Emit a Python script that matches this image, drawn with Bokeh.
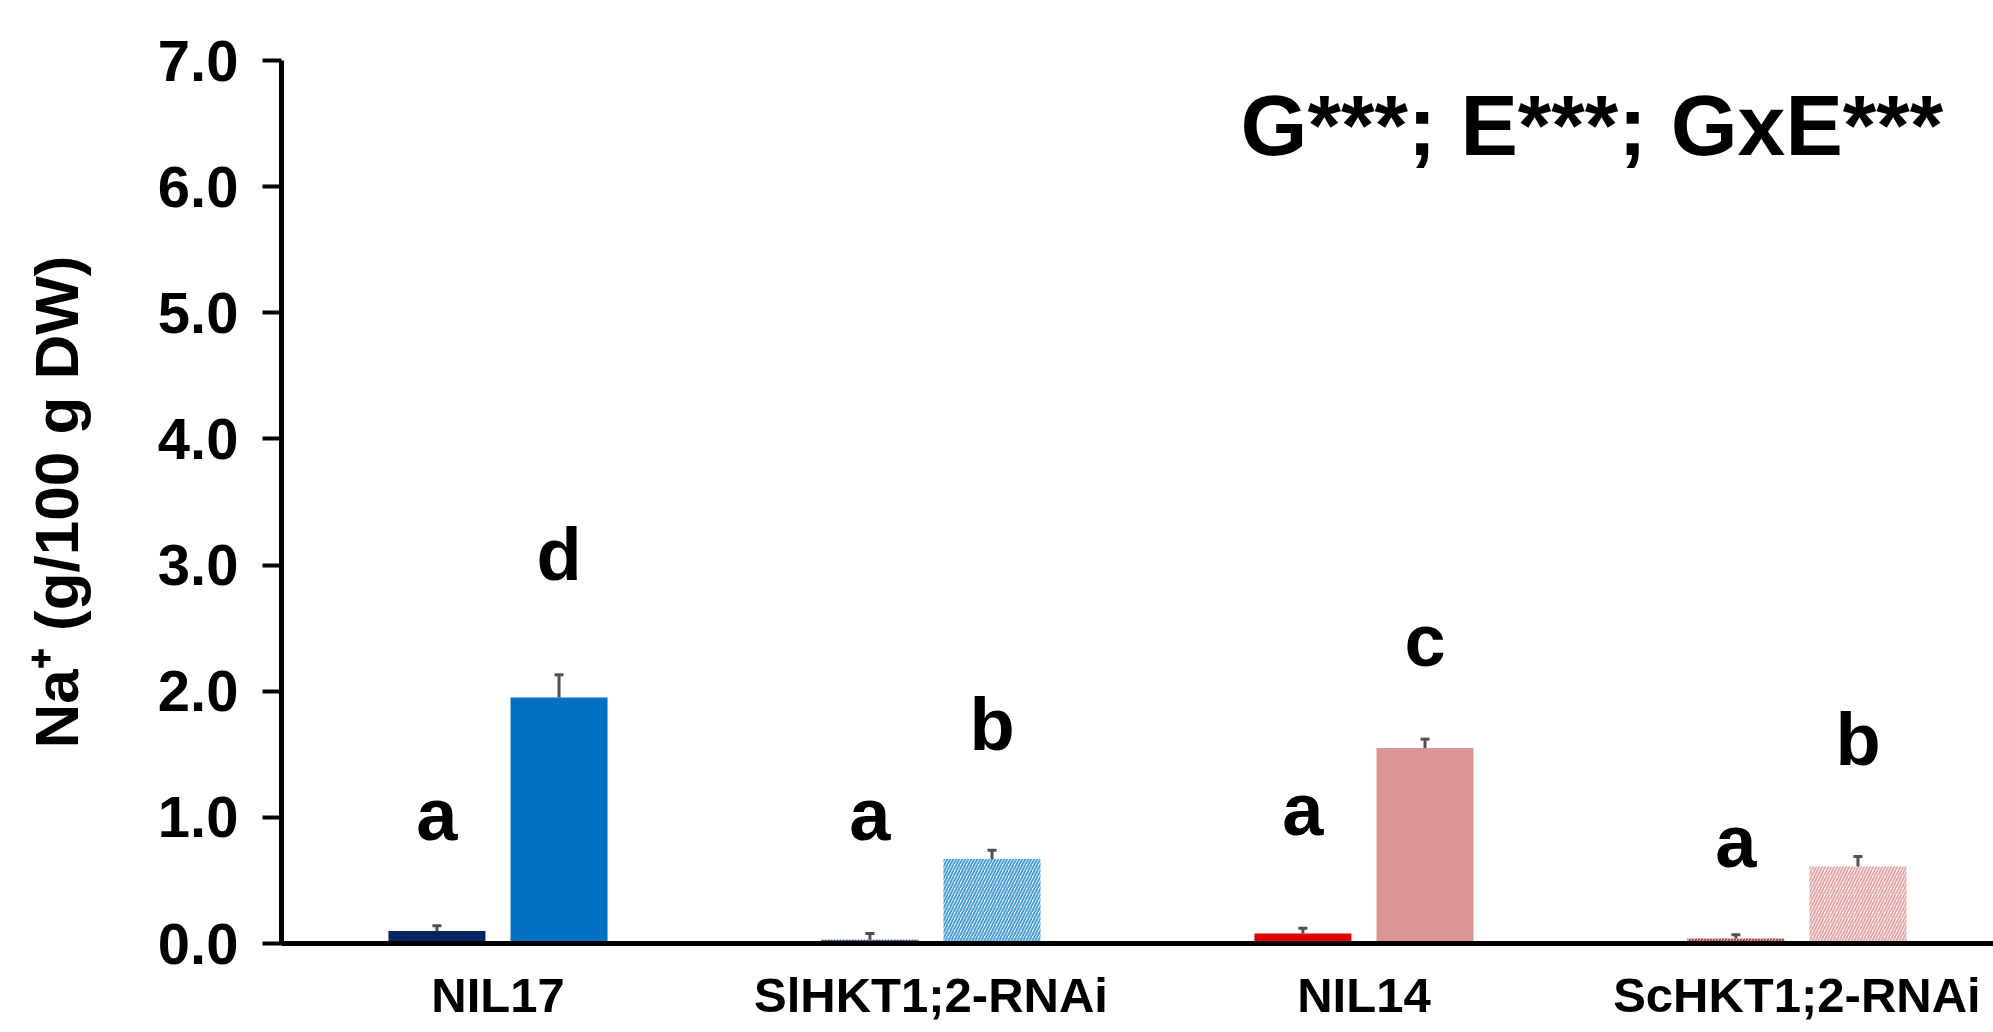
import numpy as np
from bokeh.plotting import figure
from bokeh.models import (Range1d, FixedTicker, Whisker, TeeHead, ColumnDataSource,
                          Label, PrintfTickFormatter)
from bokeh.core.properties import value
from bokeh.embed import file_html
from bokeh.resources import INLINE

# ---------------- data ----------------
genotypes = ["NIL17", "SlHKT1;2-RNAi", "NIL14", "ScHKT1;2-RNAi"]
control_mean = [0.10, 0.03, 0.08, 0.04]
control_err = [0.04, 0.05, 0.04, 0.03]
salt_mean = [1.95, 0.67, 1.55, 0.61]
salt_err = [0.18, 0.07, 0.07, 0.08]
control_letters = ["a", "a", "a", "a"]
salt_letters = ["d", "b", "c", "b"]
control_letter_y = [1.02, 1.02, 1.06, 0.81]
salt_letter_y = [3.08, 1.74, 2.40, 1.62]
y_ticks = [0, 1, 2, 3, 4, 5, 6, 7]
stats_text = "G***; E***; GxE***"

# ---------------- styles ----------------
control_fill = ["#0a2466", "#ffffff", "#e00000", "#ffffff"]
salt_fill = ["#0070c0", "#ffffff", "#d99694", "#ffffff"]
control_hatch = ["", "/", "", "/"]
salt_hatch = ["", "/", "", "/"]
control_hatch_color = ["#0a2466", "#1d3570", "#e00000", "#a8403f"]
salt_hatch_color = ["#0070c0", "#4a9ed6", "#d99694", "#e6a9a9"]

OFFSET = 0.141
WIDTH = 0.224
centers = np.arange(len(genotypes)) + 0.5

src_c = ColumnDataSource(dict(
    x=centers - OFFSET, top=control_mean, up=np.array(control_mean) + np.array(control_err),
    fill=control_fill, hatch=control_hatch, hcol=control_hatch_color,
    lab=control_letters, ly=control_letter_y))
src_s = ColumnDataSource(dict(
    x=centers + OFFSET, top=salt_mean, up=np.array(salt_mean) + np.array(salt_err),
    fill=salt_fill, hatch=salt_hatch, hcol=salt_hatch_color,
    lab=salt_letters, ly=salt_letter_y))

W, H = 1993, 1032
p = figure(width=W, height=H, output_backend="svg", toolbar_location=None,
           x_range=Range1d(0, 3.954), y_range=Range1d(0, 7),
           min_border_left=281, min_border_top=60, min_border_right=0,
           min_border_bottom=89)
p.outline_line_color = None
p.xgrid.visible = False
p.ygrid.visible = False
p.background_fill_color = "white"

for src in (src_c, src_s):
    p.vbar(x="x", top="top", bottom=0, width=WIDTH, source=src,
           fill_color="fill", line_color=None,
           hatch_pattern="hatch", hatch_color="hcol", hatch_scale=6, hatch_weight=2)
    wh = Whisker(base="x", upper="up", lower="top", source=src, dimension="height",
                 line_color="#505050", line_width=3,
                 upper_head=TeeHead(size=9, line_color="#505050", line_width=3),
                 lower_head=None)
    wh.level = "annotation"
    p.add_layout(wh)
    p.text(x="x", y="ly", text="lab", source=src, text_align="center",
           text_baseline="alphabetic", text_font=value("Liberation Sans"),
           text_font_style="bold", text_font_size="74px", text_color="black")

p.add_layout(Label(x=2.215, y=6.49, text=stats_text, text_font="Liberation Sans",
                   text_font_style="bold", text_font_size="86px", text_color="black",
                   text_baseline="alphabetic"))

# y axis
ya = p.yaxis[0]
ya.ticker = FixedTicker(ticks=y_ticks)
ya.formatter = PrintfTickFormatter(format="%.1f")
ya.axis_line_width = 5
ya.axis_line_color = "black"
ya.major_tick_line_width = 4
ya.major_tick_out = 19
ya.major_tick_in = 0
ya.minor_tick_line_color = None
ya.major_label_standoff = 24
ya.major_label_text_font = "Liberation Sans"
ya.major_label_text_font_style = "bold"
ya.major_label_text_font_size = "58px"
ya.major_label_text_color = "black"
ya.axis_label = "Na⁺ (g/100 g DW)"
ya.axis_label_text_font = "Liberation Sans"
ya.axis_label_text_font_style = "bold"
ya.axis_label_text_font_size = "62px"
ya.axis_label_text_color = "black"
ya.axis_label_standoff = 64

# x axis
xa = p.xaxis[0]
xa.ticker = FixedTicker(ticks=list(centers))
xa.major_label_overrides = {float(c): g for c, g in zip(centers, genotypes)}
xa.axis_line_width = 5
xa.axis_line_color = "black"
xa.major_tick_line_color = None
xa.minor_tick_line_color = None
xa.major_tick_out = 0
xa.major_tick_in = 0
xa.major_label_standoff = 24
xa.major_label_text_font = "Liberation Sans"
xa.major_label_text_font_style = "bold"
xa.major_label_text_font_size = "49px"
xa.major_label_text_color = "black"

open("out.html", "w").write(file_html(p, INLINE))
